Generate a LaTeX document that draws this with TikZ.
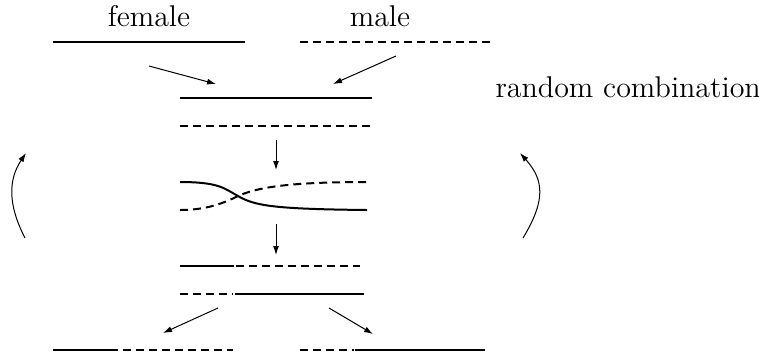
\documentclass[tikz,border=0pt]{standalone}
\usetikzlibrary{arrows.meta}
\begin{document}
\begin{tikzpicture}[x=0.4pt,y=-0.4pt,
  chrom/.style={line width=0.8pt},
  chromd/.style={line width=0.8pt,dash pattern=on 3.2pt off 2pt},
  conn/.style={line width=0.4pt,-{Latex[length=3.6pt,width=2.4pt]}},
  lbl/.style={font=\fontsize{12}{14}\selectfont,anchor=base,inner sep=0pt}]
\useasboundingbox (0,0) rectangle (759,356);
% labels
\node[lbl] (female) at (149,26) {female};
\node[lbl] (male) at (380,26) {male};
\node[lbl,anchor=base west] (rc) at (495,97) {random combination};
% parent chromosomes
\draw[chrom] (53,42) -- (245,42);
\draw[chromd] (300,42) -- (493,42);
% pair
\draw[chrom] (180,98) -- (372,98);
\draw[chromd] (180,126) -- (372,126);
% crossover
\draw[chrom] (180,182) .. controls (220,182) and (225,189) .. (238,196)
  .. controls (255,206) and (275,209) .. (367,210);
\draw[chromd] (180,210) .. controls (205,210) and (222,204) .. (238,196)
  .. controls (256,188) and (285,182) .. (367,182);
% recombined pair
\draw[chrom] (180,266) -- (234,266);
\draw[chromd] (236,266) -- (360,266);
\draw[chromd] (180,294) -- (233,294);
\draw[chrom] (235,294) -- (364,294);
% gametes
\draw[chrom] (53,350) -- (110,350);
\draw[chromd] (110,350) -- (233,350);
\draw[chromd] (300,350) -- (354,350);
\draw[chrom] (355,350) -- (485,350);
% coordinates for connectors
\coordinate (f1) at (149,66);
\coordinate (f2) at (216,84);
\coordinate (m1) at (396,56);
\coordinate (m2) at (333,84);
\coordinate (d1) at (276,140);
\coordinate (d2) at (276,170);
\coordinate (e1) at (276,224);
\coordinate (e2) at (276,255);
\coordinate (g1) at (218,308);
\coordinate (g2) at (163,333);
\coordinate (h1) at (329,308);
\coordinate (h2) at (373,334);
\coordinate (l1) at (25,238);
\coordinate (l2) at (26,153);
\coordinate (r1) at (523,238);
\coordinate (r2) at (520,153);
\draw[conn] (f1) -- (f2);
\draw[conn] (m1) -- (m2);
\draw[conn] (d1) -- (d2);
\draw[conn] (e1) -- (e2);
\draw[conn] (g1) -- (g2);
\draw[conn] (h1) -- (h2);
\draw[conn] (l1) .. controls (8,205) and (8,180) .. (l2);
\draw[conn] (r1) .. controls (546,200) and (544,180) .. (r2);
\end{tikzpicture}
\end{document}
